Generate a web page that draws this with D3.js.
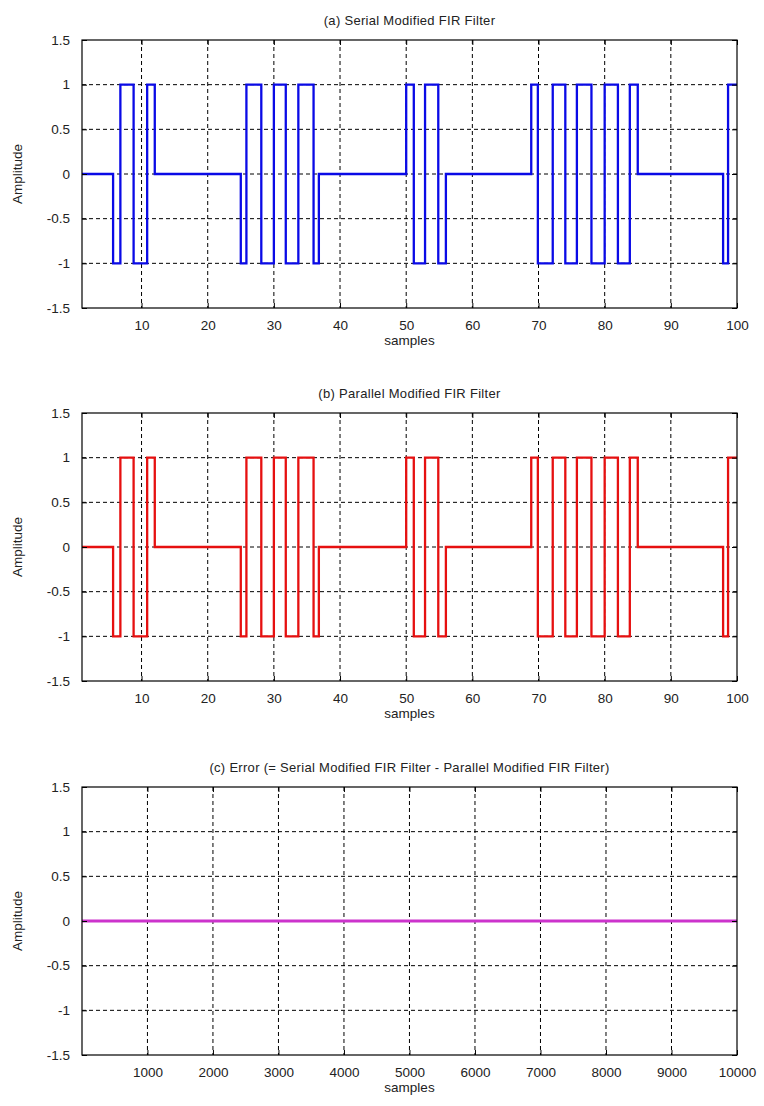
<!DOCTYPE html>
<html>
<head>
<meta charset="utf-8">
<script src="https://cdn.jsdelivr.net/npm/d3@7"></script>
<style>
  body { margin: 0; background: #fff; }
  svg text { font-family: "Liberation Sans", Arial, sans-serif; fill: #222; }
</style>
</head>
<body>
<div class="chart-container"></div>
<script>
// sample positions where the filter output changes level, and the level of each segment
const edges = [1, 5.7, 6.8, 8.8, 10.85, 12, 25, 25.85, 28.1, 30, 31.8, 33.7, 36, 36.8,
    50, 51.15, 52.85, 54.85, 56, 68.9, 69.9, 72.15, 74.05, 75.8, 78, 80, 82, 83.8, 85,
    97.9, 98.65, 100];
const serialLevels = [0, -1, 1, -1, 1, 0, -1, 1, -1, 1, -1, 1, -1, 0,
    1, -1, 1, -1, 0, 1, -1, 1, -1, 1, -1, 1, -1, 1, 0, -1, 1];
const parallelLevels = [0, -1, 1, -1, 1, 0, -1, 1, -1, 1, -1, 1, -1, 0,
    1, -1, 1, -1, 0, 1, -1, 1, -1, 1, -1, 1, -1, 1, 0, -1, 1];
const errorX = [1, 10000];
const errorY = [0, 0];

const yTicks = [-1.5, -1, -0.5, 0, 0.5, 1, 1.5];
const xTicksShort = [10, 20, 30, 40, 50, 60, 70, 80, 90, 100];
const xTicksLong = [1000, 2000, 3000, 4000, 5000, 6000, 7000, 8000, 9000, 10000];
const titles = [
    '(a) Serial Modified FIR Filter',
    '(b) Parallel Modified FIR Filter',
    '(c) Error (= Serial Modified FIR Filter - Parallel Modified FIR Filter)'
];

const width = 764;
const height = 1106;
const marginLeft = 82;
const marginRight = 27;
const panelHeight = 268;
const panelTops = [40, 413, 787];

const svg = d3.select('.chart-container').append('svg')
    .attr('width', width)
    .attr('height', height);

const toPoints = (xs, levels) => {
    const pts = levels.map((v, i) => [xs[i], v]);
    pts.push([xs[xs.length - 1], levels[levels.length - 1]]);
    return pts;
};

// plain hyphen minus like the original, no thousands separator
const plain = d => String(d);

const panels = [
    { domain: [1, 100], ticks: xTicksShort, data: toPoints(edges, serialLevels), color: '#0a0ae6', width: 2.3, curve: d3.curveStepAfter },
    { domain: [1, 100], ticks: xTicksShort, data: toPoints(edges, parallelLevels), color: '#e61010', width: 2.3, curve: d3.curveStepAfter },
    { domain: [1, 10000], ticks: xTicksLong, data: errorX.map((d, i) => [d, errorY[i]]), color: '#cc33cc', width: 2.8, curve: d3.curveLinear }
];

panels.forEach((p, idx) => {
    const top = panelTops[idx];
    const x = d3.scaleLinear().domain(p.domain).range([marginLeft, width - marginRight]);
    const y = d3.scaleLinear().domain([-1.5, 1.5]).range([top + panelHeight, top]);
    const g = svg.append('g');

    // grid
    g.append('g').selectAll('line')
        .data(p.ticks.filter(t => t < p.domain[1]))
        .enter().append('line')
        .attr('x1', d => x(d)).attr('x2', d => x(d))
        .attr('y1', top).attr('y2', top + panelHeight)
        .attr('stroke', '#000').attr('stroke-width', 1).attr('stroke-dasharray', '4,3');
    g.append('g').selectAll('line')
        .data(yTicks.filter(t => t > -1.5 && t < 1.5))
        .enter().append('line')
        .attr('x1', marginLeft).attr('x2', width - marginRight)
        .attr('y1', d => y(d)).attr('y2', d => y(d))
        .attr('stroke', '#000').attr('stroke-width', 1).attr('stroke-dasharray', '4,3');

    // data line
    g.append('path')
        .datum(p.data)
        .attr('fill', 'none')
        .attr('stroke', p.color)
        .attr('stroke-width', p.width)
        .attr('d', d3.line().x(d => x(d[0])).y(d => y(d[1])).curve(p.curve));

    // axes (ticks inside, matlab style)
    g.append('g')
        .attr('transform', `translate(0,${top + panelHeight})`)
        .call(d3.axisBottom(x).tickValues(p.ticks).tickSizeInner(-5).tickSizeOuter(0).tickPadding(12).tickFormat(plain))
        .call(a => a.select('.domain').remove())
        .call(a => a.selectAll('text').attr('font-size', 13.5));
    g.append('g')
        .attr('transform', `translate(0,${top})`)
        .call(d3.axisTop(x).tickValues(p.ticks).tickSizeInner(-5).tickSizeOuter(0).tickFormat(''))
        .call(a => a.select('.domain').remove());
    g.append('g')
        .attr('transform', `translate(${marginLeft},0)`)
        .call(d3.axisLeft(y).tickValues(yTicks).tickSizeInner(-5).tickSizeOuter(0).tickPadding(12).tickFormat(plain))
        .call(a => a.select('.domain').remove())
        .call(a => a.selectAll('text').attr('font-size', 13.5));
    g.append('g')
        .attr('transform', `translate(${width - marginRight},0)`)
        .call(d3.axisRight(y).tickValues(yTicks).tickSizeInner(-5).tickSizeOuter(0).tickFormat(''))
        .call(a => a.select('.domain').remove());

    g.append('rect')
        .attr('x', marginLeft).attr('y', top)
        .attr('width', width - marginLeft - marginRight).attr('height', panelHeight)
        .attr('fill', 'none').attr('stroke', '#000').attr('stroke-width', 1.2);

    g.append('text')
        .attr('x', (marginLeft + width - marginRight) / 2)
        .attr('y', top - 15)
        .attr('text-anchor', 'middle')
        .attr('font-size', 13)
        .attr('letter-spacing', 0.3)
        .text(titles[idx]);

    g.append('text')
        .attr('x', (marginLeft + width - marginRight) / 2)
        .attr('y', top + panelHeight + 37)
        .attr('text-anchor', 'middle')
        .attr('font-size', 13.5)
        .text('samples');

    g.append('text')
        .attr('transform', `translate(22,${top + panelHeight / 2}) rotate(-90)`)
        .attr('text-anchor', 'middle')
        .attr('font-size', 13.5)
        .text('Amplitude');
});
</script>
</body>
</html>
